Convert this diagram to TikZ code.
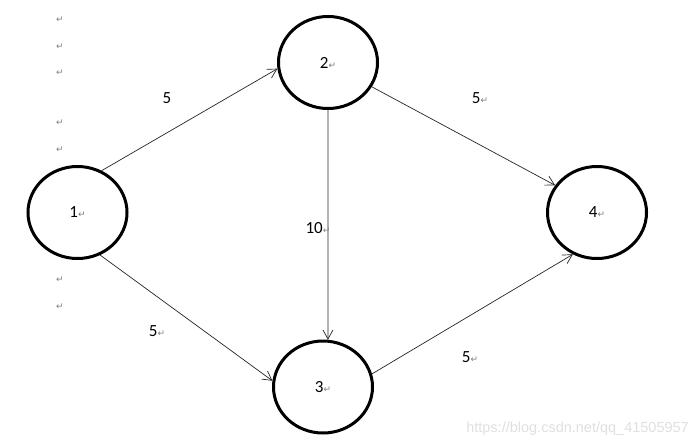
\documentclass[tikz,border=0pt]{standalone}
\usepackage{fontspec}
\setmainfont{Carlito}
\newfontfamily\dvfont{DejaVu Sans}
\newfontfamily\wmfont{Liberation Sans}
\usetikzlibrary{shapes.geometric,arrows.meta}
\newcommand{\retmark}{{\dvfont\fontsize{9}{9}\selectfont\color{black!50}↵}}
\tikzset{
  vert/.style={ellipse,draw=black,line width=3pt,minimum width=99pt,minimum height=92pt,inner sep=0pt,font=\fontsize{17}{17}\selectfont},
  wlabel/.style={inner sep=0pt,font=\fontsize{17}{17}\selectfont},
  rmark/.style={inner sep=0pt},
  arc/.style={draw=black!85,line width=0.7pt,-{Straight Barb[length=9pt,width=10pt,line width=0.7pt]}}
}
\begin{document}
\begin{tikzpicture}[x=1pt,y=-1pt]
\useasboundingbox[fill=white] (0,0) rectangle (700,447);
\node[vert] (n1) at (77.5,212.5) {1\retmark};
\node[vert] (n2) at (328,62.5) {2\retmark};
\node[vert] (n3) at (323,387) {3\retmark};
\node[vert] (n4) at (597,212.5) {4\retmark};
\draw[arc] (n1.60) -- (n2.187);
\draw[arc] (n1.298) -- (n3.173);
\draw[arc] (n2.331) -- (n4.147);
\draw[arc] (n2.270) -- (n3.84);
\draw[arc] (n3.15) -- (n4.240);
\node[wlabel] (w12) at (167,98) {5};
\node[wlabel] (w13) at (157,331) {5\retmark};
\node[wlabel] (w24) at (480,98) {5\retmark};
\node[wlabel] (w34) at (470,357) {5\retmark};
\node[wlabel] (w23) at (318,228) {10\retmark};
\foreach \yy [count=\i] in {20,47,73,123,150,280,307}
  \node[rmark] (r\i) at (60,\yy) {\retmark};
\node[inner sep=0pt,anchor=east,text=black!12,font=\wmfont\fontsize{14.5}{14.5}\selectfont] (wm) at (689,429) {https://blog.csdn.net/qq\_41505957};
\end{tikzpicture}
\end{document}
